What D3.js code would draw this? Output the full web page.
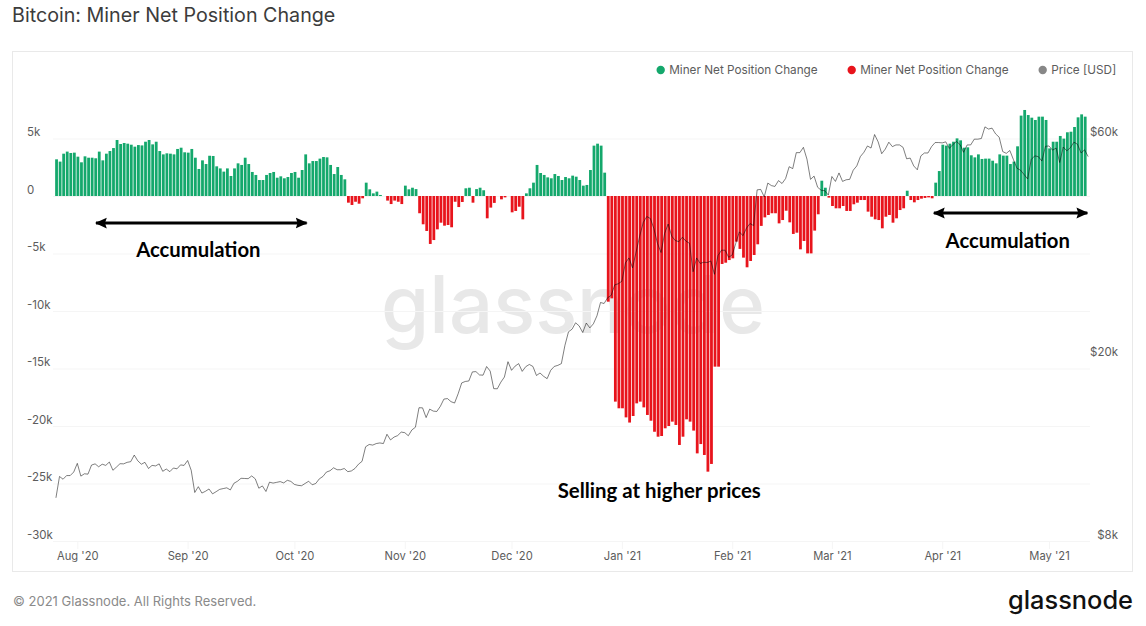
<!DOCTYPE html>
<html>
<head>
<meta charset="utf-8">
<script src="https://cdn.jsdelivr.net/npm/d3@7"></script>
<style>
  html, body { margin: 0; padding: 0; background: #fff; }
  svg { display: block; }
  text { font-family: Inter, "Noto Sans", sans-serif; }
  .note { font-family: Lato, sans-serif; font-weight: 700; fill: #000; }
</style>
</head>
<body>
<script>
// daily miner net position change, thousands of BTC, from Jul 26 2020
var netChange = [
  3.19, 2.99, 3.68, 3.86, 3.74, 3.77, 3.42, 2.93, 3.45, 3.33, 3.33, 3.28, 3.86, 3.10, 3.68, 3.91, 4.17, 4.87, 4.52, 4.61,
  4.55, 4.46, 4.29, 4.43, 4.40, 4.72, 4.87, 4.49, 4.72, 3.91, 3.62, 3.71, 3.68, 3.62, 4.09, 4.20, 3.80, 3.77, 4.09, 3.33,
  2.35, 3.10, 2.78, 3.50, 3.48, 2.58, 2.40, 2.12, 2.40, 1.74, 2.40, 2.84, 2.70, 3.33, 2.78, 2.09, 1.83, 1.39, 1.39, 1.83,
  2.00, 2.09, 1.59, 1.71, 1.54, 1.65, 2.00, 2.09, 1.59, 2.26, 3.62, 2.84, 3.04, 3.04, 3.25, 3.39, 3.36, 2.70, 1.91, 2.52,
  1.83, 1.45, -0.58, -0.78, -0.50, -0.67, -0.20, 1.16, 0.58, 0.23, 0.38, 0.09, 0, -0.40, -0.70, -0.40, -0.50, -0.70, 0.90, 0.58,
  0.72, 0.60, -1.50, -2.46, -3.04, -4.17, -3.83, -2.90, -2.32, -2.58, -2.52, -2.72, -0.50, -0.96, -0.52, 0.67, 0.72, -0.58, 0.60, 0.72,
  0.50, -1.94, -1.01, -0.60, 0, -0.29, -0.12, 0, -1.42, -1.30, -0.93, -2.03, 0.23, 0.67, 1.16, 2.70, 2.00, 1.83, 1.62, 1.54,
  1.91, 1.74, 1.39, 1.65, 1.54, 1.77, 1.68, 1.39, 0.90, 0.96, 2.26, 4.38, 4.55, 4.38, 2.03, -9.19, -8.90, -17.88, -18.46, -18.46,
  -19.25, -19.70, -19.13, -18.03, -17.88, -18.38, -19.04, -19.54, -20.50, -20.93, -20.87, -20.20, -20.00, -19.62, -19.91, -21.65, -20.93, -19.42, -19.62, -20.40,
  -22.38, -21.57, -22.52, -23.97, -23.30, -14.84, -14.84, -5.91, -5.80, -5.57, -5.42, -3.97, -4.60, -5.36, -6.20, -5.65, -5.13, -4.20, -2.60, -1.86,
  -1.65, -1.50, -1.50, -2.38, -2.09, -1.28, -2.29, -3.30, -3.19, -4.64, -3.91, -4.99, -4.99, -3.01, -1.59, 1.33, 0.72, -0.14, -0.87, -1.07,
  -1.07, -0.87, -1.30, -1.30, -0.72, -0.58, -0.35, -0.35, -1.36, -1.80, -2.03, -2.09, -2.81, -1.80, -1.65, -2.32, -1.94, -1.22, -1.07, 0.46,
  -0.35, -0.55, -0.35, -0.23, -0.17, -0.12, -0.20, 1.16, 2.17, 4.46, 4.38, 4.55, 4.72, 5.01, 4.84, 4.20, 4.23, 3.54, 3.36, 3.62,
  3.22, 3.25, 3.25, 3.07, 2.84, 3.62, 3.51, 3.51, 2.78, 2.99, 4.32, 6.99, 7.48, 7.04, 6.81, 6.61, 6.90, 6.90, 6.61, 4.14,
  4.72, 4.72, 5.22, 4.99, 5.54, 5.59, 6.00, 6.84, 7.10, 6.90
];

// daily price, thousands of USD, same start date
var priceUsd = [
  9.93, 11.05, 10.90, 11.10, 11.10, 11.30,
  11.80, 11.07, 11.20, 11.18, 11.70, 11.77, 11.60, 11.75, 11.68, 11.88, 11.40, 11.58, 11.78, 11.77, 11.86, 11.90,
  12.30, 11.95, 11.75, 11.86, 11.50, 11.68, 11.65, 11.77, 11.34, 11.47, 11.32, 11.53, 11.48, 11.71, 11.68,
  11.97, 11.40, 10.20, 10.50, 10.17, 10.26, 10.38, 10.13, 10.24, 10.36, 10.40, 10.44, 10.33, 10.68, 10.79,
  10.95, 10.94, 10.93, 11.08, 10.92, 10.42, 10.54, 10.25, 10.74, 10.69, 10.73, 10.77, 10.70, 10.84, 10.78,
  10.62, 10.57, 10.55, 10.67, 10.79, 10.60, 10.67, 10.92, 11.05, 11.30, 11.37, 11.54, 11.43, 11.43, 11.50, 11.32,
  11.36, 11.50, 11.75, 11.92, 12.82, 12.97, 12.93, 13.03, 13.07, 13.03, 13.65, 13.27, 13.46, 13.56, 13.80,
  13.76, 13.55, 13.95, 14.14, 15.59, 15.58, 14.84, 15.48, 15.33, 15.30, 15.70, 16.28, 16.32, 16.07, 15.96,
  16.72, 17.65, 17.78, 17.82, 18.65, 18.68, 18.37, 18.35, 19.16, 18.73, 17.15, 17.14, 17.72, 18.18, 19.63,
  18.80, 19.20, 19.44, 18.70, 19.15, 19.36, 19.17, 18.32, 18.55, 18.25, 18.03, 18.80, 19.17, 19.27, 19.44,
  21.30, 22.80, 23.10, 23.85, 23.48, 22.72, 23.82, 23.25, 23.73, 24.70, 26.40, 26.27, 27.04, 27.36, 28.84, 29.00,
  29.37, 32.20, 33.00, 31.40, 34.00, 36.80, 39.40, 40.60, 40.20, 38.20, 35.50, 33.90, 37.30, 39.10, 36.80, 36.00,
  35.80, 36.60, 35.90, 35.50, 30.80, 33.00, 32.10, 32.30, 32.25, 32.50, 30.40, 33.40, 34.30, 34.30, 33.10,
  33.50, 35.50, 37.60, 36.90, 38.30, 39.20, 38.80, 46.40, 46.50, 44.80, 48.00, 47.40, 47.20, 48.60,
  47.90, 49.10, 52.10, 51.60, 55.90, 55.90, 57.40, 54.10, 48.90, 49.70, 47.00, 46.30, 46.20, 45.20,
  49.60, 48.40, 50.50, 48.40, 48.80, 48.90, 51.20, 52.30, 54.80, 56.00, 57.80, 57.20, 61.20, 59.00, 55.60, 56.90,
  58.90, 57.60, 58.10, 58.10, 57.40, 54.20, 54.40, 52.30, 51.30, 55.00, 55.80, 55.80, 57.60, 58.80, 58.80,
  58.70, 59.00, 57.10, 58.20, 59.10, 58.20, 56.00, 58.10, 58.10, 59.80, 59.80, 60.00, 63.60, 62.90, 63.20,
  61.40, 60.40, 56.20, 55.70, 56.50, 54.00, 51.70, 51.20, 50.10, 49.00, 54.00, 55.00, 54.80, 53.60, 57.70,
  57.80, 56.60, 57.20, 53.20, 57.50, 56.40, 57.30, 58.90, 58.30, 55.80, 56.70, 54.80
];

var changeTicks = [5, 0, -5, -10, -15, -20, -25, -30];
var priceTicks = [60, 20, 8];
var monthTicks = ['2020-08-01', '2020-09-01', '2020-10-01', '2020-11-01', '2020-12-01', '2021-01-01', '2021-02-01', '2021-03-01', '2021-04-01', '2021-05-01'];

var legendNames = ['Miner Net Position Change', 'Miner Net Position Change', 'Price [USD]'];
var legendColors = ['#14a86c', '#e8141c', '#878787'];

var arrowSpans = [
  { from: '2020-08-06T06:00Z', to: '2020-10-04T10:00Z', level: -2.35 },
  { from: '2021-03-29T16:00Z', to: '2021-05-11T18:00Z', level: -1.48 }
];
var notes = [
  { text: 'Accumulation', at: '2020-09-04T00:00Z', level: -5.3, size: 20.3 },
  { text: 'Accumulation', at: '2021-04-19T10:00Z', level: -4.5, size: 20.3 },
  { text: 'Selling at higher prices', at: '2021-01-11T12:00Z', level: -26.3, size: 20.4 }
];

var svgW = 1146, svgH = 626;
var gridLeft = 53, gridRight = 1090, plotTop = 138.5, plotBottom = 541;

var startDay = new Date('2020-07-26T00:00Z');
var dayOf = function (i) { return d3.utcDay.offset(startDay, i); };

var x = d3.scaleUtc().domain([new Date('2020-08-01T00:00Z'), new Date('2021-05-01T00:00Z')]).range([77.3, 1049]);
var y = d3.scaleLinear().domain([-30, 5]).range([plotBottom, plotTop]);
var yPrice = d3.scaleLog().domain([8, 60]).range([plotBottom, plotTop]);

var svg = d3.select('body').append('svg').attr('width', svgW).attr('height', svgH);

svg.append('text').attr('x', 12).attr('y', 21.5)
  .attr('font-size', 19.7).attr('fill', '#3c3c3c').text('Bitcoin: Miner Net Position Change');

svg.append('rect').attr('x', 12.5).attr('y', 51.5).attr('width', 1120).attr('height', 520)
  .attr('fill', '#fff').attr('stroke', '#e9e9e9');

// watermark goes under the bars
svg.append('text').attr('x', 381).attr('y', 333).attr('font-size', 80).attr('font-weight', 500).attr('fill', '#e8e8e8')
  .attr('textLength', 384).attr('lengthAdjust', 'spacingAndGlyphs').text('glassnode');

var gridColor = '#f5f5f5';

// left axis, gridlines come from the tick lines
var yAxis = svg.append('g').attr('transform', 'translate(' + gridRight + ',0)')
  .call(d3.axisLeft(y).tickValues(changeTicks).tickSize(gridRight - gridLeft)
    .tickFormat(function (d) { return d === 0 ? '0' : d + 'k'; }));
yAxis.select('.domain').remove();
yAxis.selectAll('line').attr('stroke', gridColor);
yAxis.selectAll('text').attr('x', 27 - gridRight).attr('dy', -2.6).attr('text-anchor', 'start')
  .attr('font-family', null).attr('font-size', 11.5).attr('fill', '#5c5c5c');

var priceAxis = svg.append('g').attr('transform', 'translate(1118,0)')
  .call(d3.axisRight(yPrice).tickValues(priceTicks).tickSize(0)
    .tickFormat(function (d) { return '$' + d + 'k'; }));
priceAxis.select('.domain').remove();
priceAxis.selectAll('text').attr('x', 0).attr('dy', -2.6).attr('text-anchor', 'end')
  .attr('font-family', null).attr('font-size', 11.5).attr('fill', '#5c5c5c');

var xAxis = svg.append('g').attr('transform', 'translate(0,' + plotBottom + ')')
  .call(d3.axisBottom(x).tickValues(monthTicks.map(function (d) { return new Date(d + 'T00:00Z'); }))
    .tickSize(8).tickPadding(3).tickFormat(d3.utcFormat("%b '%y")));
xAxis.select('.domain').remove();
xAxis.selectAll('line').attr('stroke', gridColor);
xAxis.selectAll('text').attr('font-family', null).attr('font-size', 11.2).attr('fill', '#5c5c5c');

// bars, colour by sign
var barW = 2.8;
svg.append('g').selectAll('rect').data(netChange).enter().append('rect')
  .attr('x', function (d, i) { return x(dayOf(i)) + 0.6 - barW / 2; })
  .attr('y', function (d) { return y(Math.max(d, 0)); })
  .attr('width', barW)
  .attr('height', function (d) { return Math.abs(y(d) - y(0)); })
  .attr('fill', function (d) { return d >= 0 ? legendColors[0] : legendColors[1]; });

var line = d3.line()
  .x(function (d, i) { return x(dayOf(i)); })
  .y(function (d) { return yPrice(d); });

svg.append('path').datum(priceUsd).attr('d', line)
  .attr('fill', 'none').attr('stroke', '#000').attr('stroke-opacity', 0.5).attr('stroke-width', 1);

// legend
var legendDotX = [660.7, 851.7, 1042.7];
var legend = svg.append('g').selectAll('g').data(legendNames).enter().append('g')
  .attr('transform', function (d, i) { return 'translate(' + legendDotX[i] + ',70)'; });
legend.append('circle').attr('r', 4.2).attr('fill', function (d, i) { return legendColors[i]; });
legend.append('text').attr('x', 8.5).attr('y', 4.2).attr('font-size', 11.75).attr('fill', '#5c5c5c')
  .text(function (d) { return d; });

// hand drawn annotations
var defs = svg.append('defs');
defs.append('marker').attr('id', 'head').attr('viewBox', '0 0 10 10').attr('refX', 9).attr('refY', 5)
  .attr('markerUnits', 'userSpaceOnUse').attr('markerWidth', 12).attr('markerHeight', 12)
  .attr('orient', 'auto-start-reverse')
  .append('path').attr('d', 'M0,0.5 L10,5 L0,9.5 L1.5,5 Z').attr('fill', '#000');

svg.append('g').selectAll('line').data(arrowSpans).enter().append('line')
  .attr('x1', function (d) { return x(new Date(d.from)); })
  .attr('x2', function (d) { return x(new Date(d.to)); })
  .attr('y1', function (d) { return y(d.level); })
  .attr('y2', function (d) { return y(d.level); })
  .attr('stroke', '#000').attr('stroke-width', 3)
  .attr('marker-start', 'url(#head)').attr('marker-end', 'url(#head)');

svg.append('g').selectAll('text').data(notes).enter().append('text')
  .attr('class', 'note')
  .attr('x', function (d) { return x(new Date(d.at)); })
  .attr('y', function (d) { return y(d.level); })
  .attr('text-anchor', 'middle')
  .attr('font-size', function (d) { return d.size; })
  .text(function (d) { return d.text; });

// footer
svg.append('text').attr('x', 13).attr('y', 606).attr('font-size', 13).attr('fill', '#8a8a8a')
  .text('© 2021 Glassnode. All Rights Reserved.');
svg.append('text').attr('x', 1008).attr('y', 609).attr('font-size', 25).attr('font-weight', 500).attr('fill', '#111')
  .attr('textLength', 125).attr('lengthAdjust', 'spacingAndGlyphs').text('glassnode');
</script>
</body>
</html>
